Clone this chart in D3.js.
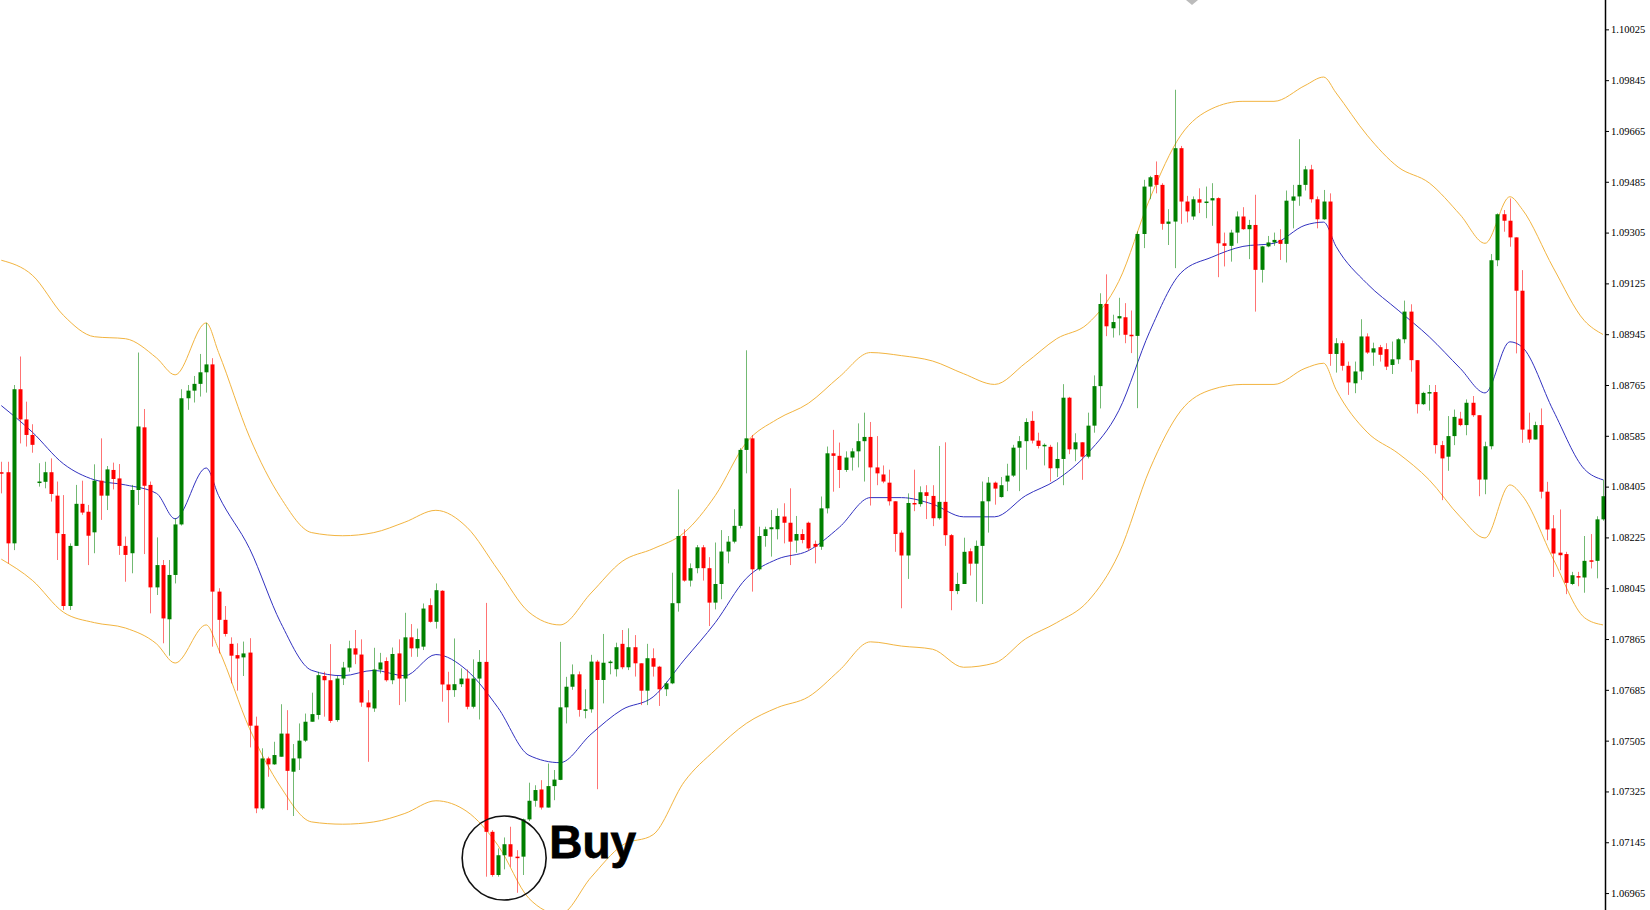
<!DOCTYPE html>
<html><head><meta charset="utf-8">
<script src="https://cdn.jsdelivr.net/npm/d3@7"></script>
<style>html,body{margin:0;padding:0;background:#fff;overflow:hidden}</style>
</head><body><svg id="c" width="1650" height="910"></svg>
<script>
const opens=[1.08456,1.08456,1.08204,1.08750,1.08643,1.08588,1.08421,1.08422,1.08456,1.08373,1.08237,1.07982,1.08195,1.08344,1.08316,1.08243,1.08426,1.08373,1.08464,1.08434,1.08195,1.08169,1.08393,1.08615,1.08411,1.08048,1.08127,1.07935,1.08092,1.08271,1.08718,1.08745,1.08769,1.08810,1.08838,1.08033,1.07933,1.07848,1.07808,1.07800,1.07817,1.07558,1.07265,1.07442,1.07421,1.07448,1.07530,1.07395,1.07442,1.07505,1.07572,1.07596,1.07734,1.07719,1.07578,1.07725,1.07764,1.07832,1.07810,1.07640,1.07619,1.07757,1.07787,1.07719,1.07814,1.07725,1.07871,1.07832,1.07838,1.07985,1.07926,1.08036,1.07704,1.07684,1.07705,1.07725,1.07625,1.07725,1.07784,1.07182,1.07029,1.07099,1.07138,1.07094,1.07094,1.07226,1.07292,1.07332,1.07268,1.07344,1.07366,1.07623,1.07696,1.07740,1.07614,1.07616,1.07785,1.07720,1.07781,1.07758,1.07848,1.07765,1.07836,1.07779,1.07682,1.07797,1.07767,1.07687,1.07708,1.07992,1.08230,1.08072,1.08116,1.08190,1.08116,1.07994,1.08060,1.08175,1.08210,1.08266,1.08535,1.08576,1.08112,1.08230,1.08254,1.08254,1.08299,1.08277,1.08214,1.08237,1.08277,1.08202,1.08192,1.08328,1.08523,1.08514,1.08464,1.08508,1.08530,1.08566,1.08581,1.08473,1.08448,1.08419,1.08353,1.08242,1.08161,1.08347,1.08343,1.08385,1.08372,1.08293,1.08351,1.08233,1.08035,1.08060,1.08176,1.08132,1.08195,1.08353,1.08419,1.08368,1.08423,1.08444,1.08543,1.08566,1.08638,1.08568,1.08549,1.08546,1.08470,1.08503,1.08720,1.08537,1.08562,1.08511,1.08621,1.08761,1.09052,1.08966,1.09001,1.09005,1.08943,1.08939,1.09300,1.09468,1.09509,1.09474,1.09336,1.09344,1.09604,1.09415,1.09362,1.09423,1.09411,1.09419,1.09427,1.09267,1.09258,1.09305,1.09362,1.09317,1.09332,1.09173,1.09256,1.09270,1.09279,1.09265,1.09418,1.09433,1.09474,1.09529,1.09423,1.09352,1.09415,1.08875,1.08913,1.08833,1.08771,1.08813,1.08937,1.08880,1.08899,1.08892,1.08836,1.08856,1.08927,1.09025,1.08853,1.08697,1.08737,1.08740,1.08552,1.08511,1.08584,1.08646,1.08623,1.08702,1.08658,1.08430,1.08548,1.09207,1.09370,1.09347,1.09288,1.09099,1.08607,1.08572,1.08623,1.08387,1.08257,1.08171,1.08166,1.08060,1.08088,1.08083,1.08144,1.08142,1.08289];
const highs=[1.08493,1.08493,1.08765,1.08866,1.08706,1.08626,1.08488,1.08493,1.08505,1.08423,1.08375,1.08204,1.08411,1.08426,1.08340,1.08484,1.08576,1.08478,1.08490,1.08485,1.08228,1.08411,1.08880,1.08680,1.08423,1.08225,1.08145,1.08145,1.08293,1.08750,1.08765,1.08797,1.08875,1.08985,1.08860,1.08045,1.07982,1.07871,1.07850,1.07856,1.07868,1.07590,1.07478,1.07448,1.07501,1.07634,1.07613,1.07493,1.07566,1.07601,1.07675,1.07749,1.07749,1.07847,1.07734,1.07784,1.07859,1.07897,1.07864,1.07684,1.07834,1.07816,1.07800,1.07835,1.07864,1.07958,1.07918,1.07902,1.07991,1.08009,1.08062,1.08038,1.07749,1.07867,1.07761,1.07757,1.07793,1.07826,1.07993,1.07188,1.07123,1.07162,1.07200,1.07117,1.07229,1.07356,1.07347,1.07365,1.07424,1.07401,1.07855,1.07731,1.07775,1.07750,1.07687,1.07809,1.07791,1.07883,1.07790,1.07852,1.07897,1.07903,1.07879,1.07779,1.07848,1.07832,1.07770,1.07714,1.08100,1.08395,1.08254,1.08133,1.08198,1.08198,1.08155,1.08207,1.08251,1.08230,1.08325,1.08541,1.08888,1.08588,1.08263,1.08263,1.08322,1.08328,1.08346,1.08399,1.08301,1.08254,1.08281,1.08214,1.08370,1.08547,1.08606,1.08561,1.08530,1.08541,1.08629,1.08667,1.08634,1.08584,1.08480,1.08465,1.08353,1.08250,1.08381,1.08465,1.08406,1.08410,1.08410,1.08549,1.08562,1.08237,1.08100,1.08224,1.08186,1.08214,1.08423,1.08439,1.08423,1.08439,1.08486,1.08553,1.08584,1.08647,1.08672,1.08596,1.08558,1.08553,1.08562,1.08768,1.08723,1.08594,1.08562,1.08667,1.08799,1.09090,1.09157,1.09014,1.09074,1.09055,1.09029,1.09309,1.09492,1.09506,1.09557,1.09480,1.09388,1.09811,1.09612,1.09435,1.09433,1.09462,1.09468,1.09480,1.09430,1.09305,1.09315,1.09380,1.09395,1.09350,1.09439,1.09258,1.09293,1.09305,1.09317,1.09454,1.09474,1.09636,1.09541,1.09545,1.09433,1.09456,1.09444,1.08931,1.08922,1.08848,1.08848,1.08998,1.08948,1.08915,1.08907,1.08913,1.08919,1.08931,1.09064,1.09051,1.08853,1.08741,1.08765,1.08765,1.08567,1.08655,1.08678,1.08670,1.08714,1.08726,1.08658,1.08564,1.09229,1.09373,1.09385,1.09426,1.09288,1.09172,1.08667,1.08635,1.08682,1.08422,1.08304,1.08324,1.08174,1.08103,1.08103,1.08230,1.08237,1.08300,1.08430];
const lows=[1.08381,1.08133,1.08180,1.08558,1.08547,1.08525,1.08405,1.08399,1.08352,1.08145,1.07968,1.07968,1.08195,1.08305,1.08127,1.08169,1.08287,1.08322,1.08395,1.08163,1.08068,1.08098,1.08340,1.08166,1.07956,1.08021,1.07850,1.07806,1.08062,1.08267,1.08677,1.08703,1.08724,1.08738,1.07838,1.07814,1.07874,1.07708,1.07682,1.07734,1.07481,1.07248,1.07260,1.07377,1.07419,1.07448,1.07259,1.07238,1.07401,1.07500,1.07572,1.07580,1.07590,1.07568,1.07572,1.07702,1.07749,1.07776,1.07625,1.07430,1.07607,1.07743,1.07714,1.07705,1.07631,1.07643,1.07802,1.07802,1.07826,1.07923,1.07902,1.07643,1.07569,1.07660,1.07695,1.07616,1.07619,1.07580,1.07023,1.07023,1.07023,1.07049,1.07058,1.06966,1.07029,1.07220,1.07271,1.07261,1.07268,1.07294,1.07365,1.07566,1.07685,1.07590,1.07584,1.07604,1.07333,1.07637,1.07740,1.07732,1.07758,1.07755,1.07732,1.07631,1.07631,1.07732,1.07628,1.07663,1.07705,1.07962,1.08068,1.08051,1.08098,1.08072,1.07911,1.07970,1.08006,1.08133,1.08204,1.08257,1.08452,1.08033,1.08107,1.08192,1.08157,1.08218,1.08204,1.08127,1.08171,1.08204,1.08178,1.08133,1.08181,1.08310,1.08387,1.08400,1.08457,1.08462,1.08473,1.08423,1.08338,1.08410,1.08417,1.08338,1.08174,1.07974,1.08078,1.08318,1.08334,1.08290,1.08265,1.08288,1.08195,1.07967,1.08024,1.08060,1.08090,1.07997,1.07989,1.08242,1.08341,1.08366,1.08389,1.08439,1.08389,1.08465,1.08558,1.08540,1.08480,1.08423,1.08439,1.08410,1.08520,1.08495,1.08429,1.08505,1.08596,1.08682,1.08938,1.08933,1.08941,1.08913,1.08878,1.08683,1.09250,1.09423,1.09444,1.09315,1.09261,1.09179,1.09336,1.09341,1.09350,1.09374,1.09356,1.09329,1.09147,1.09185,1.09202,1.09267,1.09315,1.09211,1.09025,1.09128,1.09253,1.09258,1.09208,1.09199,1.09320,1.09400,1.09454,1.09411,1.09320,1.09350,1.08833,1.08809,1.08816,1.08730,1.08736,1.08783,1.08875,1.08833,1.08848,1.08818,1.08804,1.08840,1.08913,1.08812,1.08664,1.08694,1.08674,1.08522,1.08357,1.08461,1.08552,1.08619,1.08587,1.08652,1.08371,1.08378,1.08537,1.09186,1.09308,1.09255,1.08877,1.08560,1.08560,1.08572,1.08363,1.08215,1.08085,1.08109,1.08024,1.08056,1.08052,1.08029,1.08115,1.08080,1.08284];
const closes=[1.08454,1.08204,1.08750,1.08643,1.08588,1.08553,1.08423,1.08456,1.08379,1.08240,1.07982,1.08195,1.08344,1.08313,1.08231,1.08426,1.08373,1.08466,1.08432,1.08195,1.08163,1.08393,1.08618,1.08408,1.08048,1.08127,1.07938,1.08092,1.08271,1.08718,1.08745,1.08769,1.08810,1.08838,1.08033,1.07933,1.07883,1.07806,1.07796,1.07814,1.07558,1.07265,1.07442,1.07421,1.07454,1.07530,1.07398,1.07442,1.07505,1.07572,1.07599,1.07737,1.07719,1.07575,1.07725,1.07764,1.07832,1.07810,1.07640,1.07623,1.07757,1.07782,1.07719,1.07812,1.07725,1.07871,1.07832,1.07865,1.07973,1.07926,1.08038,1.07704,1.07684,1.07705,1.07725,1.07625,1.07725,1.07784,1.07182,1.07029,1.07099,1.07138,1.07094,1.07091,1.07226,1.07292,1.07330,1.07268,1.07344,1.07367,1.07623,1.07696,1.07740,1.07614,1.07616,1.07785,1.07720,1.07781,1.07785,1.07836,1.07765,1.07836,1.07779,1.07682,1.07797,1.07767,1.07687,1.07708,1.07992,1.08230,1.08072,1.08116,1.08190,1.08116,1.07994,1.08060,1.08175,1.08210,1.08266,1.08535,1.08576,1.08112,1.08230,1.08254,1.08261,1.08301,1.08277,1.08210,1.08237,1.08216,1.08186,1.08192,1.08328,1.08523,1.08514,1.08464,1.08508,1.08530,1.08566,1.08581,1.08473,1.08452,1.08423,1.08353,1.08237,1.08161,1.08347,1.08343,1.08385,1.08372,1.08293,1.08351,1.08233,1.08035,1.08060,1.08174,1.08132,1.08195,1.08353,1.08419,1.08398,1.08410,1.08444,1.08543,1.08566,1.08634,1.08568,1.08549,1.08553,1.08470,1.08503,1.08720,1.08537,1.08562,1.08511,1.08621,1.08761,1.09052,1.08973,1.08988,1.09009,1.08943,1.08939,1.09300,1.09468,1.09501,1.09474,1.09336,1.09344,1.09604,1.09415,1.09380,1.09423,1.09411,1.09415,1.09427,1.09267,1.09258,1.09305,1.09362,1.09317,1.09332,1.09173,1.09256,1.09270,1.09279,1.09265,1.09418,1.09433,1.09474,1.09529,1.09423,1.09352,1.09415,1.08875,1.08913,1.08833,1.08774,1.08813,1.08937,1.08880,1.08895,1.08872,1.08830,1.08856,1.08927,1.09025,1.08853,1.08697,1.08737,1.08740,1.08552,1.08505,1.08584,1.08652,1.08623,1.08702,1.08658,1.08430,1.08548,1.09207,1.09370,1.09347,1.09288,1.09099,1.08607,1.08572,1.08623,1.08387,1.08253,1.08168,1.08162,1.08064,1.08091,1.08083,1.08142,1.08142,1.08289,1.08371];

const bandIdx=[0,5,10,15,20,25,28,33,35,40,45,50,55,60,65,70,75,80,85,90,95,100,105,110,115,120,125,130,135,140,145,150,155,160,165,170,175,180,185,190,195,200,205,210,213,215,220,225,230,235,239,243,245,250,255,258];
const upperBand=[1.09207,1.09154,1.09012,1.08936,1.08929,1.08861,1.08801,1.08985,1.08880,1.08580,1.08366,1.08242,1.08231,1.08242,1.08279,1.08321,1.08261,1.08110,1.07960,1.07915,1.08028,1.08140,1.08185,1.08242,1.08373,1.08561,1.08644,1.08700,1.08794,1.08880,1.08869,1.08850,1.08805,1.08767,1.08843,1.08929,1.08982,1.09132,1.09425,1.09650,1.09744,1.09770,1.09770,1.09826,1.09856,1.09800,1.09650,1.09537,1.09481,1.09368,1.09267,1.09432,1.09387,1.09180,1.08993,1.08944];
const middleBand=[1.08692,1.08598,1.08486,1.08429,1.08411,1.08381,1.08291,1.08471,1.08373,1.08185,1.07923,1.07754,1.07735,1.07754,1.07735,1.07810,1.07754,1.07622,1.07453,1.07427,1.07528,1.07615,1.07660,1.07791,1.07923,1.08080,1.08148,1.08178,1.08261,1.08366,1.08366,1.08343,1.08298,1.08298,1.08373,1.08429,1.08523,1.08674,1.08955,1.09162,1.09218,1.09256,1.09267,1.09331,1.09342,1.09256,1.09124,1.09030,1.08936,1.08824,1.08737,1.08918,1.08899,1.08674,1.08467,1.08429];
const lowerBand=[1.08148,1.08073,1.07960,1.07923,1.07904,1.07848,1.07780,1.07915,1.07829,1.07547,1.07341,1.07217,1.07209,1.07217,1.07247,1.07292,1.07254,1.07134,1.06946,1.06890,1.07021,1.07134,1.07172,1.07359,1.07472,1.07566,1.07622,1.07660,1.07754,1.07855,1.07840,1.07829,1.07765,1.07780,1.07866,1.07923,1.07998,1.08167,1.08467,1.08674,1.08749,1.08767,1.08767,1.08824,1.08842,1.08749,1.08598,1.08523,1.08429,1.08298,1.08223,1.08411,1.08373,1.08148,1.07941,1.07915];
const tickLabels=["1.10025","1.09845","1.09665","1.09485","1.09305","1.09125","1.08945","1.08765","1.08585","1.08405","1.08225","1.08045","1.07865","1.07685","1.07505","1.07325","1.07145","1.06965"];
const buyIndex=81;
const buyLabel="Buy";

const svg=d3.select("#c");
const W=1650,H=910,axisX=1605;
const x=d3.scaleLinear().domain([0,closes.length-1]).range([1.3,1603]);
const y=d3.scaleLinear().domain([1.06905,1.10129]).range([910,0]);

svg.append("defs").append("clipPath").attr("id","clip").append("rect").attr("x",0).attr("y",0).attr("width",axisX).attr("height",H);
const g=svg.append("g").attr("clip-path","url(#clip)");

const line=d3.line().x((d,i)=>x(bandIdx[i])).y(d=>y(d)).curve(d3.curveMonotoneX);
[[upperBand,"#f2b440"],[lowerBand,"#f2b440"],[middleBand,"#3232c0"]].forEach(([arr,col])=>{
  g.append("path").datum(arr).attr("d",line).attr("fill","none").attr("stroke",col).attr("stroke-width",1);
});

const idx=d3.range(closes.length);
const col=i=>closes[i]<opens[i]?"#ff0000":"#008000";
g.selectAll("line.w").data(idx).join("line").attr("class","w")
 .attr("x1",i=>Math.round(x(i))+0.5).attr("x2",i=>Math.round(x(i))+0.5)
 .attr("y1",i=>y(highs[i])).attr("y2",i=>y(lows[i]))
 .attr("stroke",col).attr("stroke-opacity",0.55).attr("stroke-width",1);
g.selectAll("rect.b").data(idx).join("rect").attr("class","b")
 .attr("x",i=>Math.round(x(i))-1.5).attr("width",4)
 .attr("y",i=>y(Math.max(opens[i],closes[i])))
 .attr("height",i=>Math.max(1.5,Math.abs(y(opens[i])-y(closes[i]))))
 .attr("fill",col);

svg.append("line").attr("x1",axisX+0.5).attr("x2",axisX+0.5).attr("y1",0).attr("y2",H).attr("stroke","#000").attr("stroke-width",1.5);
const ax=d3.axisRight(y).tickValues(tickLabels.map(Number)).tickFormat((d,i)=>tickLabels[i]).tickSize(4).tickPadding(2);
const axg=svg.append("g").attr("transform",`translate(${axisX},0)`).call(ax);
axg.select(".domain").remove();
axg.selectAll("text").attr("font-family","'Liberation Serif','DejaVu Serif',serif").attr("font-size",10.5).attr("fill","#000");

svg.append("path").attr("d","M1186,0 L1192,5 L1198,0 Z").attr("fill","#bbb");

const bx=x(buyIndex), byy=858;
svg.append("circle").attr("cx",bx).attr("cy",byy).attr("r",42).attr("fill","none").attr("stroke","#111").attr("stroke-width",1.6);
svg.append("text").attr("x",bx+45).attr("y",byy).attr("font-family","'Liberation Sans',Arial,sans-serif").attr("font-weight","bold").attr("font-size",46).attr("fill","#000").attr("stroke","#000").attr("stroke-width",0.8).text(buyLabel);
</script></body></html>
